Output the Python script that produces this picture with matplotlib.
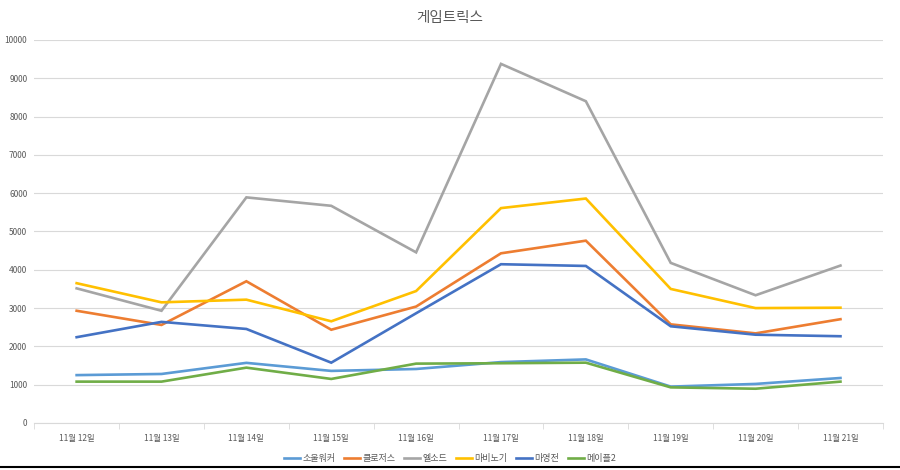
import matplotlib
matplotlib.use("Agg")
import matplotlib.pyplot as plt
import numpy as np

plt.rcParams['font.family'] = ['Noto Sans CJK KR', 'DejaVu Sans']

# categories (x axis)
dates = ['11월 12일', '11월 13일', '11월 14일', '11월 15일', '11월 16일',
         '11월 17일', '11월 18일', '11월 19일', '11월 20일', '11월 21일']

# series values
soulworker = [1250, 1280, 1570, 1360, 1410, 1590, 1660, 950, 1020, 1175]
closers = [2930, 2560, 3700, 2435, 3040, 4430, 4760, 2575, 2340, 2710]
elsword = [3515, 2930, 5890, 5670, 4455, 9375, 8400, 4180, 3335, 4110]
mabinogi = [3650, 3150, 3220, 2655, 3445, 5610, 5860, 3500, 3000, 3010]
mabinogi_heroes = [2240, 2640, 2455, 1575, 2865, 4145, 4100, 2525, 2305, 2265]
maple2 = [1080, 1080, 1445, 1150, 1550, 1560, 1575, 930, 895, 1080]

series = [
    ('소울워커', soulworker, '#5B9BD5'),
    ('클로저스', closers, '#ED7D31'),
    ('엘소드', elsword, '#A5A5A5'),
    ('마비노기', mabinogi, '#FFC000'),
    ('마영전', mabinogi_heroes, '#4472C4'),
    ('메이플2', maple2, '#70AD47'),
]

text_col = '#595959'

fig = plt.figure(figsize=(9, 4.7), dpi=100)
ax = fig.add_axes([0.038, 0.1, 0.943, 0.815])

x = np.arange(len(dates))
for name, vals, col in series:
    ax.plot(x, vals, color=col, lw=1.9, label=name, solid_joinstyle='miter')

ax.set_xlim(-0.5, len(dates) - 0.5)
ax.set_ylim(0, 10000)
ax.set_yticks(np.arange(0, 10001, 1000))
ax.set_xticks(x)
ax.set_xticklabels(dates)
ax.set_xticks(np.arange(-0.5, len(dates), 1), minor=True)

ax.grid(axis='y', color='#D9D9D9', lw=0.8)
ax.set_axisbelow(True)
for s in ['top', 'right', 'left']:
    ax.spines[s].set_visible(False)
ax.spines['bottom'].set_color('#D9D9D9')
ax.tick_params(axis='both', which='major', length=0, labelsize=6, colors=text_col)
ax.tick_params(axis='x', which='major', pad=8)
ax.tick_params(axis='x', which='minor', length=4, color='#D9D9D9')
ax.tick_params(axis='y', pad=5)

fig.text(0.5, 0.962, '게임트릭스', ha='center', va='center', fontsize=10.5, color=text_col)

fig.legend(loc='center', bbox_to_anchor=(0.5, 0.025), ncol=6, frameon=False,
           fontsize=6.5, labelcolor=text_col, handlelength=1.8, handletextpad=0.2,
           columnspacing=1.0)

# bottom border of the screenshot
fig.add_artist(plt.Line2D([0, 1], [0.007, 0.007], color='black', lw=1.5,
                          transform=fig.transFigure))

fig.savefig('out.png', dpi=100)
